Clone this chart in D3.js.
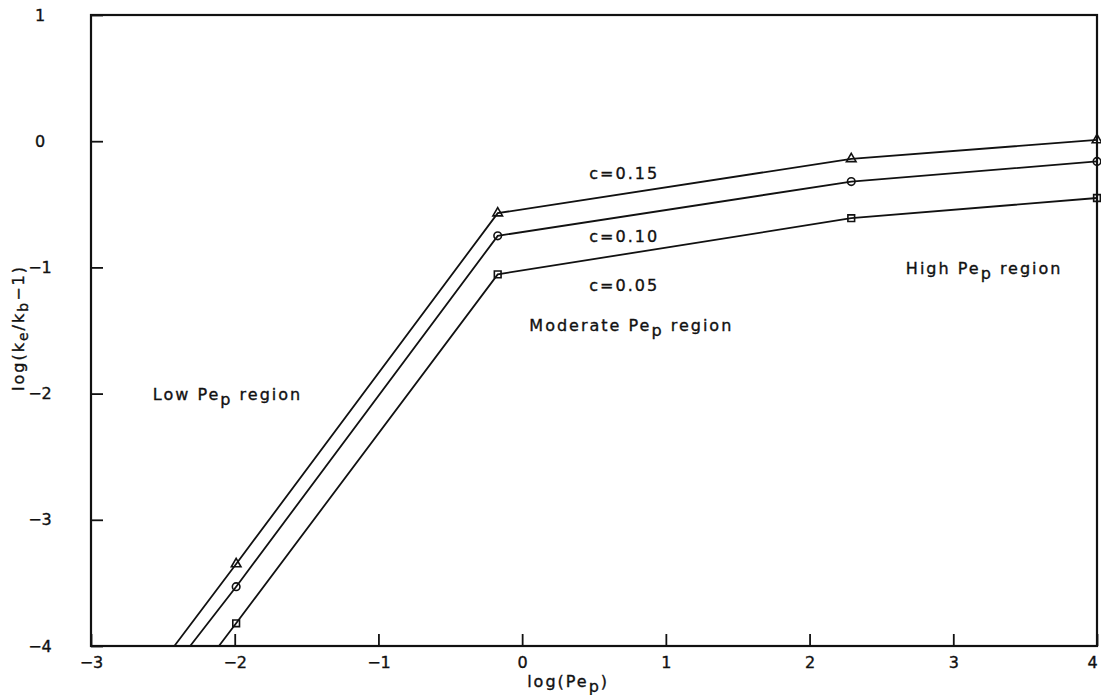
<!DOCTYPE html>
<html lang="en">
<head>
    <meta charset="UTF-8">
    <title>log(ke/kb-1) vs log(Pep)</title>
    <script src="https://d3js.org/d3.v7.min.js"></script>
    <style>
        body { margin: 0; background: #fff; }
        text { font-family: "DejaVu Sans", sans-serif; font-size: 16px; fill: #111; letter-spacing: 2px;
               stroke: #111; stroke-width: 0.35px; }
        .tick text { letter-spacing: 0; }
        .line { fill: none; stroke: #111; stroke-width: 1.8px; }
        .marker { fill: none; stroke: #111; stroke-width: 1.6px; }
        .frame { fill: none; stroke: #111; stroke-width: 2.2px; }
    </style>
</head>
<body>
<div id="chart"></div>
<script>
    // 数据：每条曲线的 log(Pep) 与 log(ke/kb-1)，第一个点是与 y=-4 的交点（不画标记）
    const xTicks = [-3, -2, -1, 0, 1, 2, 3, 4];
    const yTicks = [-4, -3, -2, -1, 0, 1];

    const x015 = [-2.42, -1.99, -0.17, 2.29, 4.0];
    const y015 = [-4.0, -3.35, -0.57, -0.14, 0.01];

    const x010 = [-2.31, -1.99, -0.17, 2.29, 4.0];
    const y010 = [-4.0, -3.53, -0.75, -0.32, -0.16];

    const x005 = [-2.11, -1.99, -0.17, 2.29, 4.0];
    const y005 = [-4.0, -3.82, -1.055, -0.61, -0.45];

    const seriesNames = ['c=0.15', 'c=0.10', 'c=0.05'];
    const markerTypes = ['triangle', 'circle', 'square'];

    const width = 1101, height = 695;
    const margin = { left: 91, right: 4, top: 15, bottom: 49 };

    const svg = d3.select('#chart').append('svg')
        .attr('width', width)
        .attr('height', height);

    const x = d3.scaleLinear().domain([-3, 4]).range([margin.left, width - margin.right]);
    const y = d3.scaleLinear().domain([-4, 1]).range([height - margin.bottom, margin.top]);

    const fmt = d => d3.format('d')(d).replace('-', '\u2212');

    // 坐标轴（刻度朝内）
    svg.append('g')
        .attr('transform', `translate(0,${y(-4)})`)
        .call(d3.axisBottom(x).tickValues(xTicks).tickSize(-12).tickPadding(11).tickFormat(fmt))
        .call(g => g.select('.domain').remove())
        .call(g => g.selectAll('line').attr('stroke', '#111').attr('stroke-width', 1.8))
        .call(g => g.selectAll('text').filter(d => d === 4).attr('dx', -5));

    svg.append('g')
        .attr('transform', `translate(${x(-3)},0)`)
        .call(d3.axisLeft(y).tickValues(yTicks).tickSize(-12).tickPadding(51).tickFormat(fmt))
        .call(g => g.select('.domain').remove())
        .call(g => g.selectAll('line').attr('stroke', '#111').attr('stroke-width', 1.8))
        .call(g => g.selectAll('text').attr('text-anchor', 'middle'));

    // 外框
    svg.append('rect')
        .attr('class', 'frame')
        .attr('x', x(-3)).attr('y', y(1))
        .attr('width', x(4) - x(-3)).attr('height', y(-4) - y(1));

    // 曲线
    const series = [
        { name: seriesNames[0], xs: x015, ys: y015, marker: markerTypes[0] },
        { name: seriesNames[1], xs: x010, ys: y010, marker: markerTypes[1] },
        { name: seriesNames[2], xs: x005, ys: y005, marker: markerTypes[2] }
    ];

    const line = d3.line().x(d => x(d[0])).y(d => y(d[1]));
    const symbolOf = {
        triangle: d3.symbol().type(d3.symbolTriangle).size(40),
        circle: d3.symbol().type(d3.symbolCircle).size(45),
        square: d3.symbol().type(d3.symbolSquare).size(45)
    };

    series.forEach(s => {
        const pts = s.xs.map((v, i) => [v, s.ys[i]]);
        svg.append('path').attr('class', 'line').attr('d', line(pts));
        svg.append('g').selectAll('path')
            .data(pts.slice(1))
            .enter().append('path')
            .attr('class', 'marker')
            .attr('transform', d => `translate(${x(d[0])},${y(d[1])})`)
            .attr('d', symbolOf[s.marker]());
    });

    // 曲线标注
    const labelPos = [[0.71, -0.26], [0.71, -0.76], [0.71, -1.15]];
    svg.append('g').selectAll('text')
        .data(seriesNames)
        .enter().append('text')
        .attr('x', (d, i) => x(labelPos[i][0]))
        .attr('y', (d, i) => y(labelPos[i][1]))
        .attr('text-anchor', 'middle')
        .attr('dominant-baseline', 'middle')
        .text(d => d);

    // 区域文字（带下标 p）
    function subText(px, py, pre, post) {
        const t = svg.append('text').attr('x', px).attr('y', py);
        t.append('tspan').text(pre + 'Pe');
        t.append('tspan').attr('dy', 5).text('p');
        t.append('tspan').attr('dy', -5).text(post);
        return t;
    }
    subText(x(-2.57), y(-2.05), 'Low ', ' region');
    subText(x(0.05), y(-1.5), 'Moderate ', ' region');
    subText(x(2.67), y(-1.05), 'High ', ' region');

    // 坐标轴标题
    const xt = svg.append('text')
        .attr('x', x(0.32)).attr('y', height - 8)
        .attr('text-anchor', 'middle');
    xt.append('tspan').text('log(Pe');
    xt.append('tspan').attr('dy', 5).text('p');
    xt.append('tspan').attr('dy', -5).text(')');

    const yt = svg.append('text')
        .attr('transform', `translate(24,${y(-1.48)}) rotate(-90)`)
        .attr('text-anchor', 'middle');
    yt.append('tspan').text('log(k');
    yt.append('tspan').attr('dy', 4).attr('font-size', 14).text('e');
    yt.append('tspan').attr('dy', -4).text('/k');
    yt.append('tspan').attr('dy', 4).attr('font-size', 14).text('b');
    yt.append('tspan').attr('dy', -4).text('\u22121)');
</script>
</body>
</html>
